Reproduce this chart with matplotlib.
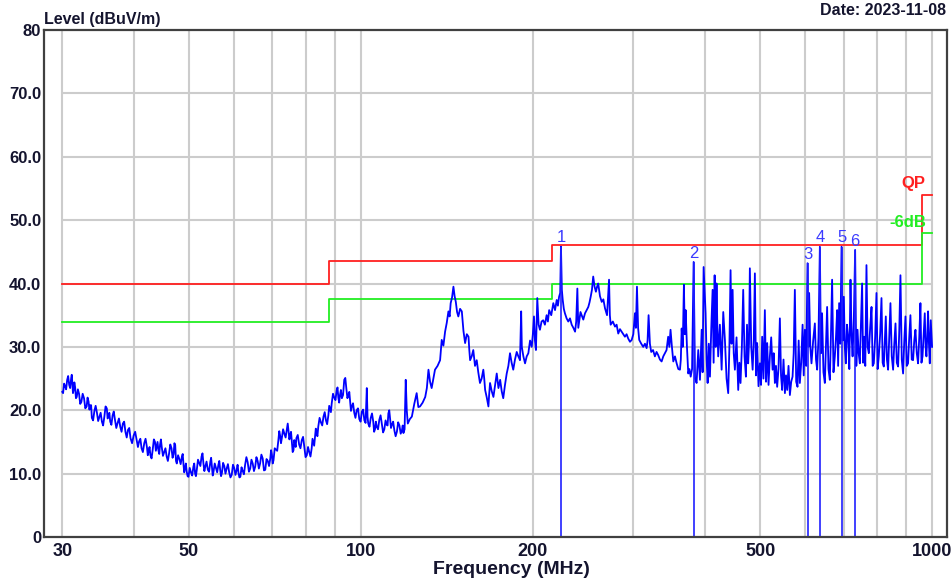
import numpy as np
import matplotlib.pyplot as plt

# measured trace, split in bands (frequency MHz, level dBuV/m)
freq_lo = [
    30.0, 30.1, 30.35, 30.6, 30.85, 31.1, 31.25, 31.4, 31.6, 31.8, 32.1, 32.4, 32.75, 33.1, 33.35,
    33.6, 33.8, 34.15, 34.5, 34.85, 35.2, 35.55, 35.9, 36.15, 36.4, 36.75, 37.1, 37.5, 37.9, 38.3,
    38.7, 39.1, 39.5, 40.0, 40.5, 40.9, 41.3, 41.75, 42.2, 42.5, 42.8, 43.2, 43.6, 43.9, 44.2,
    44.5, 44.8, 45.25, 45.7, 46.15, 46.6, 47.0, 47.3, 47.6, 48.1, 48.6, 48.9, 49.2, 49.55, 49.9,
    50.4, 50.9, 51.25, 51.6, 52.1, 52.6, 53.0, 53.4, 53.95, 54.5, 54.85, 55.2, 55.75, 56.3, 56.7,
    57.1, 57.65, 58.2, 58.8, 59.4, 60.0, 60.6, 61.05, 61.5, 62.1, 62.7, 63.35, 64.0, 64.65, 65.3,
    65.95, 66.6, 67.3, 68.0, 68.7, 69.4, 69.85, 70.3, 71.0, 71.7, 72.2, 72.7, 73.45, 74.2, 74.7,
    75.2, 75.7, 76.2, 76.65, 77.1, 77.95, 78.8, 79.6, 80.4, 81.2, 82.0, 82.55, 83.1, 83.65, 84.2,
    85.1, 86.0, 86.85, 87.7, 88.3, 88.9, 89.8, 90.7, 91.3, 91.9, 92.6, 93.5, 94.3, 95.1, 95.75,
    96.4, 97.35, 98.3, 99.35, 100.4, 101.4, 102.4, 103.0, 104.05, 105.1, 105.85, 106.6, 107.7, 108.8, 109.9,
    111.0, 111.7, 112.5, 113.3, 114.45, 115.6, 116.8, 118.0, 118.7, 119.8,
]
level_lo = [
    22.9, 22.7, 23.8, 24.8, 24.0, 25.1, 24.2, 23.2, 23.6, 22.1, 22.6, 21.3, 21.9, 20.6, 21.4,
    20.8, 18.8, 19.9, 19.6, 19.0, 18.2, 19.0, 20.3, 19.1, 18.2, 19.2, 18.5, 18.0, 17.4, 17.9,
    16.6, 16.9, 15.6, 16.0, 15.3, 15.1, 14.0, 14.8, 14.2, 13.6, 12.9, 13.8, 15.0, 14.3, 13.7,
    14.6, 14.2, 13.4, 12.7, 13.2, 14.0, 13.1, 14.5, 11.6, 12.3, 12.7, 11.5, 10.8, 10.3, 9.5,
    10.2, 11.1, 10.0, 10.6, 11.7, 12.7, 11.6, 11.1, 10.6, 11.9, 11.0, 10.3, 10.9, 11.4, 10.6,
    10.1, 11.2, 10.8, 10.2, 9.8, 10.9, 10.6, 10.1, 9.5, 10.4, 11.4, 11.8, 10.8, 11.6, 11.1,
    12.0, 11.6, 12.4, 10.6, 12.0, 12.4, 13.0, 12.1, 13.8, 15.3, 16.0, 15.6, 16.3, 17.1, 16.6,
    16.1, 15.0, 13.7, 14.8, 15.6, 14.6, 15.3, 14.2, 12.9, 13.4, 14.0, 14.9, 15.8, 16.3, 17.4,
    18.1, 19.0, 18.4, 19.2, 20.2, 21.1, 22.0, 23.2, 22.0, 22.4, 21.9, 24.8, 23.4, 22.4, 21.3,
    20.6, 19.6, 20.0, 18.6, 19.8, 18.4, 23.5, 17.9, 18.8, 18.2, 17.0, 17.4, 18.5, 17.9, 17.0,
    17.7, 19.5, 18.6, 17.7, 16.8, 16.6, 17.6, 16.9, 16.4, 24.8,
]

# fine ripple read between the points above (30-120 MHz)
freq_rip = [
    30.22, 30.47, 30.72, 30.97, 31.17, 31.32, 31.5, 31.7, 31.95, 32.25,
    32.57, 32.92, 33.22, 33.47, 33.7, 33.97, 34.32, 34.67, 35.02, 35.37,
    35.72, 36.02, 36.27, 36.57, 36.92, 37.3, 37.7, 38.1, 38.5, 38.9,
    39.3, 39.75, 40.25, 40.7, 41.1, 41.52, 41.97, 42.35, 42.65, 43.0,
    43.4, 43.75, 44.05, 44.35, 44.65, 45.02, 45.47, 45.92, 46.37, 46.8,
    47.15, 47.45, 47.85, 48.35, 48.75, 49.05, 49.37, 49.72, 50.15, 50.65,
    51.07, 51.42, 51.85, 52.35, 52.8, 53.2, 53.67, 54.22, 54.67, 55.02,
    55.47, 56.02, 56.5, 56.9, 57.37, 57.92, 58.5, 59.1, 59.7, 60.3,
    60.82, 61.27, 61.8, 62.4, 63.02, 63.67, 64.32, 64.97, 65.62, 66.27,
    66.95, 67.65, 68.35, 69.05, 69.62, 70.07, 70.65, 71.35, 71.95, 72.45,
    73.07, 73.82, 74.45, 74.95, 75.45, 75.95, 76.42, 76.87, 77.52, 78.37,
    79.2, 80.0, 80.8, 81.6, 82.27, 82.82, 83.37, 83.92, 84.65, 85.55,
    86.42, 87.27, 88.0, 88.6, 89.35, 90.25, 91.0, 91.6, 92.25, 93.05,
    93.9, 94.7, 95.42, 96.07, 96.87, 97.82, 98.82, 99.87, 100.9, 101.9,
    102.7, 103.52, 104.57, 105.47, 106.22, 107.15, 108.25, 109.35, 110.45, 111.35,
    112.1, 112.9, 113.87, 115.02, 116.2, 117.4, 118.35, 119.25,
]
level_rip = [
    24.2, 23.3, 25.4, 23.5, 25.6, 22.7, 24.4, 21.9, 23.3, 21.0,
    22.6, 20.3, 22.0, 20.1, 20.8, 18.4, 20.7, 18.3, 19.6, 17.6,
    20.6, 18.7, 19.6, 17.7, 19.8, 17.2, 18.7, 16.6, 18.2, 15.7,
    17.2, 14.8, 16.6, 14.2, 15.5, 13.4, 15.5, 12.9, 14.2, 12.4,
    15.4, 13.6, 15.0, 13.1, 15.4, 12.8, 14.0, 12.0, 14.6, 12.5,
    14.8, 12.0, 12.9, 11.5, 13.1, 10.2, 11.6, 9.6, 10.9, 9.7,
    11.6, 9.6, 12.2, 11.2, 13.2, 10.4, 11.9, 10.3, 12.5, 9.7,
    11.6, 10.2, 12.0, 9.6, 11.7, 10.0, 11.5, 9.4, 11.4, 9.8,
    11.4, 9.4, 11.0, 9.9, 12.6, 10.3, 12.2, 10.4, 12.6, 10.8,
    13.0, 10.5, 12.3, 11.2, 13.7, 11.6, 14.0, 13.6, 16.7, 14.8,
    17.0, 15.7, 17.9, 15.4, 16.6, 13.4, 15.3, 14.2, 16.1, 14.0,
    15.8, 12.6, 14.2, 12.7, 15.5, 14.4, 17.1, 15.9, 18.8, 17.6,
    19.7, 17.8, 20.7, 19.7, 22.6, 21.6, 23.6, 21.2, 23.2, 22.4,
    25.1, 21.9, 22.9, 19.9, 21.1, 18.8, 20.3, 18.2, 20.1, 18.0,
    19.0, 17.4, 19.5, 16.6, 18.2, 17.0, 19.2, 16.5, 18.4, 17.6,
    20.0, 17.2, 18.2, 15.9, 18.1, 16.3, 17.6, 17.0,
]

freq_mid = [
    120.3, 120.8, 121.8, 122.8, 124.0, 125.2, 126.05, 126.9, 128.25, 129.6, 130.45, 131.3, 132.15, 133.0, 133.9,
    134.8, 136.2, 137.6, 138.5, 139.45, 140.4, 141.35, 142.3, 143.0, 143.6, 144.4, 145.2, 145.9, 146.6, 147.35,
    148.1, 149.15, 150.2, 151.2, 152.2, 153.25, 154.3, 154.8, 155.3, 156.3, 157.3, 158.4, 159.5, 160.5, 161.6,
    162.7, 163.8, 164.4, 165.0, 166.1, 167.2, 167.7, 168.3, 169.45, 170.6, 171.75, 172.9, 174.1, 175.3, 176.4,
    177.5, 178.75, 180.0, 181.2, 182.4, 183.6, 184.8, 186.1, 187.4, 188.65, 189.9, 190.8, 191.3, 192.5, 193.8,
    195.1, 196.4, 197.75, 199.1, 200.0, 200.9, 201.7, 202.5, 203.0, 203.6, 204.7, 205.8, 207.15, 208.5, 209.95,
    211.4, 212.5, 213.6, 215.4, 217.2, 218.7, 220.2, 221.25, 222.3, 223.3, 224.0, 224.8, 225.6, 226.6, 227.6,
    229.15, 230.7, 232.3, 233.9, 235.5, 237.1, 238.2, 239.3, 240.2, 241.2, 242.35, 243.5, 245.1, 246.8, 248.45,
    250.1, 251.3, 252.5, 253.8, 255.1, 256.5, 257.9, 259.1, 260.3, 262.15, 264.0, 265.75, 267.5, 269.7, 271.9,
    272.8, 273.7, 276.1, 278.5, 280.35, 282.2, 284.15, 286.1, 288.0, 289.9, 291.85, 293.8, 295.85, 297.9, 299.85,
    301.8, 303.0, 304.3, 305.7, 307.1, 309.6, 312.1, 314.25, 316.4, 317.6, 318.9, 320.6, 322.3, 324.7, 327.1,
    329.3, 331.5, 333.8, 336.1, 338.35, 340.6, 342.85, 345.1, 346.75, 348.4, 350.35, 352.3, 354.7, 357.1, 359.5,
    361.9, 363.15, 364.4, 366.0, 367.7, 369.0, 370.3, 372.25, 374.2, 376.0, 377.9, 380.0,
]
level_mid = [
    20.0, 17.9, 18.6, 19.0, 21.0, 22.7, 20.5, 20.6, 21.2, 22.1, 23.5, 26.4, 24.5, 23.5, 25.0,
    26.4, 27.0, 27.9, 31.1, 30.2, 32.4, 33.8, 35.6, 34.8, 36.9, 37.8, 39.5, 38.0, 37.1, 35.5,
    34.8, 36.0, 35.6, 32.5, 30.6, 32.0, 31.6, 29.5, 27.9, 28.5, 29.5, 27.0, 27.9, 26.0, 24.3,
    25.0, 26.4, 25.0, 23.2, 22.0, 20.6, 22.5, 24.3, 23.0, 22.1, 24.0, 25.8, 23.5, 24.8, 23.0,
    21.9, 24.0, 25.8, 27.0, 29.0, 27.5, 26.4, 28.0, 29.2, 28.5, 27.9, 35.6, 30.0, 28.5, 27.4,
    28.5, 29.0, 31.0, 30.0, 32.0, 34.8, 31.0, 29.5, 33.0, 37.7, 33.5, 32.7, 34.0, 34.2, 33.5,
    35.0, 34.0, 35.8, 35.0, 36.9, 35.8, 37.4, 36.5, 37.9, 38.5, 45.8, 39.0, 37.4, 36.0, 35.3,
    34.5, 34.0, 34.5, 33.5, 33.0, 32.4, 34.0, 39.2, 33.0, 34.2, 35.5, 35.0, 34.3, 35.3, 35.8,
    36.3, 37.0, 37.9, 39.0, 41.1, 39.5, 38.7, 39.5, 40.0, 38.0, 37.1, 37.5, 36.1, 35.0, 40.6,
    35.0, 33.5, 34.0, 33.2, 33.5, 32.1, 32.8, 32.4, 32.0, 31.6, 32.0, 31.3, 30.8, 31.1, 32.0,
    35.3, 33.0, 39.5, 33.0, 31.1, 30.5, 30.0, 30.5, 29.8, 31.0, 35.0, 30.5, 29.2, 29.5, 28.5,
    29.2, 28.7, 28.0, 27.7, 28.5, 29.0, 29.5, 31.6, 30.0, 32.7, 30.0, 27.7, 28.5, 27.4, 26.5,
    26.4, 28.0, 32.9, 30.0, 39.8, 32.0, 35.8, 30.0, 25.8, 26.5, 25.3, 26.5,
]

freq_hi = [
    382.4, 384.6, 387.0, 389.6, 392.3, 395.0, 396.5, 398.1, 401.3, 403.0, 404.6, 406.5, 408.4, 410.6, 412.8,
    414.5, 416.2, 417.8, 419.4, 420.8, 422.2, 425.1, 428.1, 430.9, 433.8, 436.7, 439.6, 441.7, 443.8, 445.6,
    447.5, 449.5, 451.6, 454.6, 457.7, 459.8, 462.0, 464.5, 467.0, 469.5, 472.1, 474.2, 476.4, 478.0, 479.7,
    482.4, 485.1, 487.3, 489.5, 491.7, 494.0, 496.7, 499.5, 501.8, 504.1, 506.8, 509.6, 512.0, 514.4, 517.2,
    520.0, 522.8, 525.7, 528.1, 530.6, 533.0, 535.5, 538.4, 541.4, 543.9, 546.4, 549.4, 552.5, 555.0, 557.6,
    560.6, 563.7, 566.7, 569.8, 572.4, 575.1, 578.2, 581.3, 584.0, 586.8, 590.0, 593.3, 596.0, 598.8, 602.0,
    605.2, 607.2, 609.2, 612.1, 615.0, 619.2, 623.4, 626.3, 629.2, 632.6, 636.1, 638.9, 641.8, 645.4, 649.0,
    652.0, 655.0, 658.6, 662.2, 665.2, 668.3, 672.0, 675.7, 678.8, 682.0, 684.7, 687.5, 690.8, 694.2, 697.4,
    700.6, 703.4, 706.3, 709.6, 712.9, 716.3, 719.7, 722.7, 725.8, 729.5, 733.3, 736.8, 740.4, 743.8, 747.3,
    750.7, 754.2, 757.2, 760.3, 763.9, 767.6, 771.2, 774.9, 779.1, 783.4, 787.0, 790.7, 794.9, 799.2, 802.9,
    806.7, 811.1, 815.5, 819.3, 823.1, 826.4, 829.8, 833.6, 837.5, 841.5, 845.5, 850.0, 854.6, 858.7, 862.9,
    867.4, 872.0, 876.1, 880.3, 885.0, 889.7, 894.0, 898.3, 903.0, 907.7, 912.0, 916.4, 921.3, 926.3, 930.7,
    935.2, 940.1, 945.1, 949.6, 954.1, 958.1, 962.2, 966.6, 971.0, 974.2, 977.5, 980.7, 984.0, 987.4, 990.8,
    994.7, 1000.0,
]
level_hi = [
    43.4, 25.0, 24.3, 29.5, 24.8, 32.7, 26.0, 42.6, 35.3, 28.0, 24.3, 30.5, 25.3, 33.0, 39.0,
    27.5, 41.3, 30.0, 40.0, 33.0, 28.5, 33.5, 26.4, 35.5, 31.1, 25.0, 22.7, 30.0, 42.1, 30.5,
    39.0, 29.0, 26.4, 31.5, 23.2, 27.5, 24.3, 30.0, 39.0, 28.5, 25.3, 33.5, 27.4, 30.5, 42.4,
    30.0, 26.4, 31.0, 41.6, 25.5, 30.6, 23.8, 27.4, 24.0, 31.6, 25.0, 35.8, 24.5, 30.6, 24.0,
    28.5, 31.5, 26.4, 29.0, 24.3, 27.0, 23.7, 26.5, 34.5, 25.5, 23.2, 28.0, 22.7, 25.5, 23.2,
    27.0, 22.4, 24.5, 25.3, 29.0, 39.0, 24.5, 23.7, 31.0, 24.3, 27.5, 33.5, 25.5, 32.7, 27.0,
    43.2, 30.0, 38.5, 30.0, 27.4, 31.0, 33.7, 28.0, 26.4, 31.5, 45.8, 29.0, 35.3, 26.0, 24.3,
    30.5, 36.3, 26.5, 24.8, 32.0, 40.6, 26.0, 28.5, 31.5, 35.8, 27.0, 36.9, 30.5, 45.8, 31.0,
    37.9, 30.0, 27.4, 33.5, 31.6, 26.5, 40.6, 32.0, 28.5, 34.5, 45.3, 27.0, 32.7, 29.0, 27.4,
    33.5, 40.0, 27.5, 31.6, 27.0, 42.9, 30.0, 29.0, 33.0, 36.3, 27.0, 27.4, 31.5, 38.5, 26.5,
    28.5, 32.0, 37.7, 27.5, 26.9, 31.0, 34.8, 28.0, 26.4, 31.5, 36.9, 28.5, 26.4, 30.5, 33.7,
    27.5, 26.9, 32.5, 41.3, 28.0, 25.8, 31.0, 34.8, 27.0, 27.4, 31.5, 35.0, 28.0, 27.9, 31.0,
    32.7, 29.0, 27.4, 31.5, 36.9, 27.5, 28.5, 32.0, 35.3, 30.0, 28.5, 31.5, 35.6, 30.5, 27.4,
    34.2, 30.0,
]

# limit lines
limit_f = [30, 88, 88, 216, 216, 960, 960, 1000]
qp_limit = [40.0, 40.0, 43.5, 43.5, 46.0, 46.0, 54.0, 54.0]
qp_6db = [34.0, 34.0, 37.5, 37.5, 40.0, 40.0, 48.0, 48.0]

# peak markers
marker_f = [224.0, 382.4, 605.2, 636.1, 694.2, 733.3]
marker_lvl = [45.8, 43.4, 43.2, 45.8, 45.8, 45.3]

grid_f = [30, 40, 50, 60, 70, 80, 90, 100, 200, 300, 400, 500, 600, 700, 800, 900, 1000]
xtick_f = [30, 50, 100, 200, 500, 1000]
ytick_v = [0, 10, 20, 30, 40, 50, 60, 70, 80]
ytick_lbl = ['0', '10.0', '20.0', '30.0', '40.0', '50.0', '60.0', '70.0', '80']

freq = np.array(freq_lo + freq_rip + freq_mid + freq_hi)
level = np.array(level_lo + level_rip + level_mid + level_hi)
order = np.argsort(freq, kind='stable')
freq, level = freq[order], level[order]

plt.rcParams['font.family'] = ['Liberation Sans', 'DejaVu Sans']
txt = '#14142e'

fig = plt.figure(figsize=(9.52, 5.78), dpi=100)
ax = fig.add_axes([44 / 952, 41 / 578, 903 / 952, 507 / 578])
ax.set_xscale('log')
ax.set_xlim(27.87, 1062)
ax.set_ylim(0, 80)

# grid only over the data span
ax.vlines(grid_f, 0, 80, color='#cccccc', lw=1.5, zorder=0)
ax.hlines(ytick_v[1:-1], 30, 1000, color='#cccccc', lw=1.5, zorder=0)

ax.plot(limit_f, qp_limit, color='#ff2020', lw=1.3)
ax.plot(limit_f, qp_6db, color='#22ee22', lw=1.3)

ax.plot(freq, level, color='#0000ff', lw=1.3)

ax.vlines(marker_f, 0, marker_lvl, color='#2020ff', lw=1.2)
for i, (f, v) in enumerate(zip(marker_f, marker_lvl)):
    ax.text(f, v + 0.2, str(i + 1), color='#3a3aff', fontsize=12,
            ha='center', va='bottom')

ax.text(975, 54.6, 'QP', color='#ff2020', fontsize=12, fontweight='bold',
        ha='right', va='bottom')
ax.text(975, 48.4, '-6dB', color='#22ee22', fontsize=12, fontweight='bold',
        ha='right', va='bottom')

ax.set_xticks(xtick_f)
ax.set_xticklabels([str(v) for v in xtick_f])
ax.minorticks_off()
ax.set_yticks(ytick_v)
ax.set_yticklabels(ytick_lbl)
ax.tick_params(length=0, pad=2)
for lb in ax.get_yticklabels():
    lb.set_fontsize(12)
    lb.set_fontweight('bold')
    lb.set_color(txt)
for lb in ax.get_xticklabels():
    lb.set_fontsize(13)
    lb.set_fontweight('bold')
    lb.set_color(txt)
ax.tick_params(axis='x', pad=4)

for s in ax.spines.values():
    s.set_color('#404040')
    s.set_linewidth(1.6)

ax.set_xlabel('Frequency (MHz)', fontsize=14, fontweight='bold', color=txt,
              va='center')
ax.xaxis.set_label_coords((511 - 44) / 903, -32 / 507)
fig.text(44 / 952, 1 - 24 / 578, 'Level (dBuV/m)', fontsize=11.5,
         fontweight='bold', color=txt, ha='left', va='baseline')
fig.text(946 / 952, 1 - 15 / 578, 'Date: 2023-11-08', fontsize=11.5,
         fontweight='bold', color=txt, ha='right', va='baseline')

fig.savefig('out.png', dpi=100)
